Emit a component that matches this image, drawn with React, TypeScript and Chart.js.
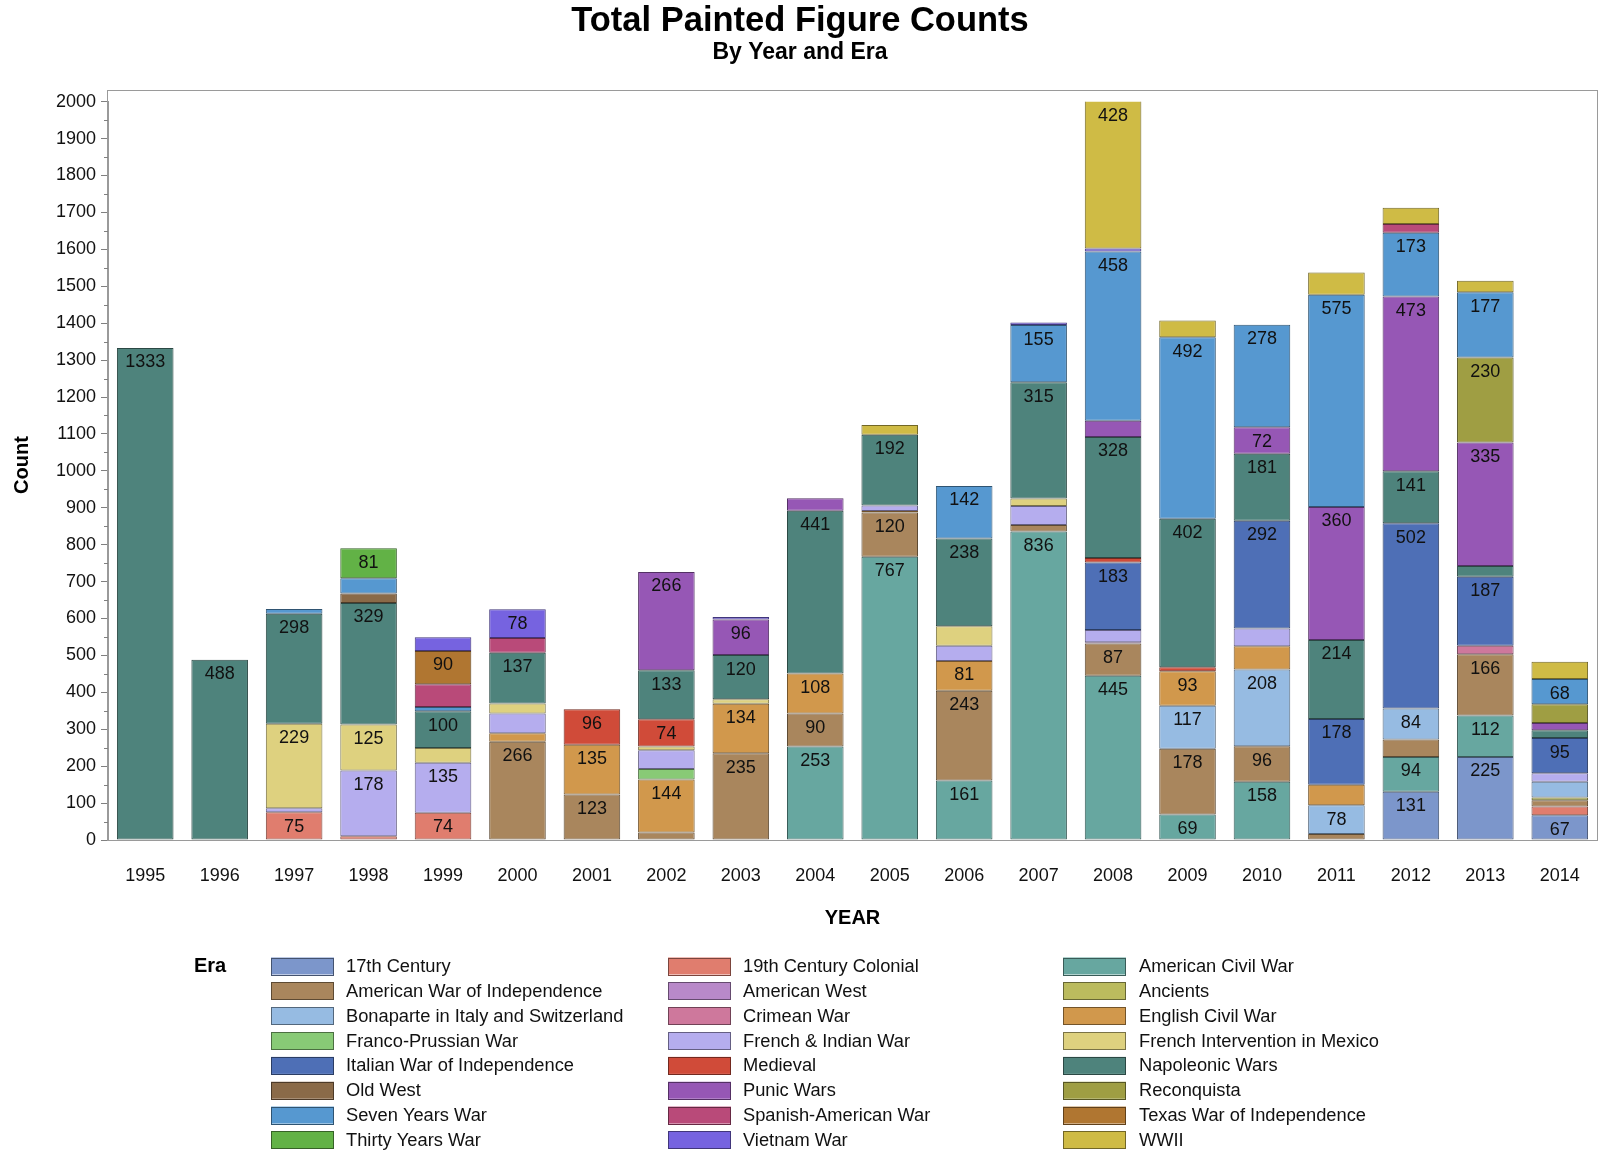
import React, { useEffect, useRef } from "react";
import { Chart, registerables } from "chart.js";

Chart.register(...registerables);

const FONT = '"Liberation Sans", Arial, Helvetica, sans-serif';

const years = ["1995", "1996", "1997", "1998", "1999", "2000", "2001", "2002", "2003", "2004",
  "2005", "2006", "2007", "2008", "2009", "2010", "2011", "2012", "2013", "2014"];

const eras = [
  "17th Century", "19th Century Colonial", "American Civil War",
  "American War of Independence", "American West", "Ancients",
  "Bonaparte in Italy and Switzerland", "Crimean War", "English Civil War",
  "Franco-Prussian War", "French & Indian War", "French Intervention in Mexico",
  "Italian War of Independence", "Medieval", "Napoleonic Wars",
  "Old West", "Punic Wars", "Reconquista",
  "Seven Years War", "Spanish-American War", "Texas War of Independence",
  "Thirty Years War", "Vietnam War", "WWII",
];

const eraColors = [
  "#7c96cb", "#e07d6e", "#67a7a0",
  "#a9865d", "#b889c9", "#bbbb5e",
  "#96bbe2", "#ce789c", "#d1984c",
  "#88ca76", "#b5adee", "#ded17f",
  "#4e6fb6", "#d04b39", "#4e837c",
  "#8a6a48", "#9657b5", "#9f9e43",
  "#5698d0", "#b94a79", "#b07631",
  "#62b246", "#7663e0", "#cfbb45",
];

//                        95  96   97   98   99   00   01   02   03   04   05   06   07   08   09   10   11   12   13   14
const c17thCentury     = [0, 0, 0, 0, 0, 0, 0, 0, 0, 0, 0, 0, 0, 0, 0, 0, 0, 131, 225, 67];
const c19thColonial    = [0, 0, 75, 10, 74, 0, 0, 0, 0, 0, 0, 0, 0, 0, 0, 0, 0, 0, 0, 24];
const americanCivilWar = [0, 0, 0, 0, 0, 0, 0, 0, 0, 253, 767, 161, 836, 445, 69, 158, 0, 94, 112, 0];
const americanWarIndep = [0, 0, 0, 0, 0, 266, 123, 20, 235, 90, 120, 243, 17, 87, 178, 96, 16, 47, 166, 17];
const americanWest     = [0, 0, 0, 0, 0, 0, 0, 0, 0, 0, 0, 0, 0, 4, 0, 0, 0, 0, 0, 0];
const ancients         = [0, 0, 0, 0, 0, 0, 0, 0, 0, 0, 0, 0, 0, 0, 0, 0, 0, 0, 0, 7];
const bonaparte        = [0, 0, 0, 0, 0, 0, 0, 0, 0, 0, 0, 0, 0, 0, 117, 208, 78, 84, 0, 43];
const crimeanWar       = [0, 0, 0, 0, 0, 0, 0, 0, 0, 0, 0, 0, 0, 0, 0, 0, 0, 0, 23, 0];
const englishCivilWar  = [0, 0, 0, 0, 0, 23, 135, 144, 134, 108, 4, 81, 0, 0, 93, 63, 56, 0, 0, 0];
const francoPrussian   = [0, 0, 0, 0, 0, 0, 0, 28, 0, 0, 0, 0, 0, 0, 0, 0, 0, 0, 0, 0];
const frenchIndian     = [0, 0, 11, 178, 135, 54, 0, 51, 0, 0, 15, 41, 52, 33, 0, 48, 0, 0, 0, 23];
const frenchMexico     = [0, 0, 229, 125, 40, 27, 0, 10, 12, 0, 0, 53, 20, 0, 0, 0, 0, 0, 0, 0];
const italianWar       = [0, 0, 0, 0, 0, 0, 0, 0, 0, 0, 0, 0, 0, 183, 0, 292, 178, 502, 187, 95];
const medieval         = [0, 0, 0, 0, 0, 0, 96, 74, 0, 0, 0, 0, 0, 12, 11, 0, 0, 0, 0, 0];
const napoleonic       = [1333, 488, 298, 329, 100, 137, 0, 133, 120, 441, 192, 238, 315, 328, 402, 181, 214, 141, 29, 21];
const oldWest          = [0, 0, 0, 26, 0, 0, 0, 0, 0, 0, 0, 0, 0, 0, 0, 0, 0, 0, 0, 0];
const punicWars        = [0, 0, 0, 0, 0, 0, 0, 266, 96, 34, 0, 0, 0, 44, 0, 72, 360, 473, 335, 20];
const reconquista      = [0, 0, 0, 0, 0, 0, 0, 0, 0, 0, 0, 0, 0, 0, 0, 0, 0, 0, 230, 51];
const sevenYearsWar    = [0, 0, 13, 41, 11, 0, 0, 0, 0, 0, 0, 142, 155, 458, 492, 278, 575, 173, 177, 68];
const spanishAmerican  = [0, 0, 0, 0, 62, 40, 0, 0, 0, 0, 0, 0, 0, 0, 0, 0, 0, 24, 0, 0];
const texasWar         = [0, 0, 0, 0, 90, 0, 0, 0, 0, 0, 0, 0, 0, 0, 0, 0, 0, 0, 0, 0];
const thirtyYearsWar   = [0, 0, 0, 81, 0, 0, 0, 0, 0, 0, 0, 0, 0, 0, 0, 0, 0, 0, 0, 0];
const vietnamWar       = [0, 0, 0, 0, 37, 78, 0, 0, 7, 0, 0, 0, 7, 8, 0, 0, 0, 0, 0, 0];
const wwii             = [0, 0, 0, 0, 0, 0, 0, 0, 0, 0, 26, 0, 0, 428, 45, 0, 60, 44, 31, 47];

const seriesValues = [
  c17thCentury, c19thColonial, americanCivilWar,
  americanWarIndep, americanWest, ancients,
  bonaparte, crimeanWar, englishCivilWar,
  francoPrussian, frenchIndian, frenchMexico,
  italianWar, medieval, napoleonic,
  oldWest, punicWars, reconquista,
  sevenYearsWar, spanishAmerican, texasWar,
  thirtyYearsWar, vietnamWar, wwii,
];

const yTickValues = [0, 100, 200, 300, 400, 500, 600, 700, 800, 900, 1000,
  1100, 1200, 1300, 1400, 1500, 1600, 1700, 1800, 1900, 2000];

function darken(hex: string, f: number): string {
  const n = parseInt(hex.slice(1), 16);
  const r = Math.round(((n >> 16) & 255) * f);
  const g = Math.round(((n >> 8) & 255) * f);
  const b = Math.round((n & 255) * f);
  return `rgb(${r},${g},${b})`;
}

const FRAME_TOP = 90;
const LABEL_MIN = 65;

const overlayPlugin = {
  id: "overlay",
  afterDatasetsDraw(chart: any) {
    const { ctx, chartArea: ca } = chart;
    ctx.save();
    ctx.font = `18px ${FONT}`;
    ctx.fillStyle = "#111";
    ctx.textAlign = "center";
    ctx.textBaseline = "middle";
    chart.data.datasets.forEach((ds: any, i: number) => {
      const meta = chart.getDatasetMeta(i);
      ds.data.forEach((v: any, j: number) => {
        if (v == null || v < LABEL_MIN) return;
        const el = meta.data[j];
        if (!el) return;
        const top = Math.min(el.y, el.base);
        const y = Math.max(top, ca.top) + 14.5;
        ctx.fillText(String(v), el.x, y);
      });
    });
    ctx.restore();
  },
  afterDraw(chart: any) {
    const { ctx, chartArea: ca, scales } = chart;
    const yScale = scales.y;
    ctx.save();
    // frame
    ctx.strokeStyle = "#9a9a9a";
    ctx.lineWidth = 1;
    ctx.strokeRect(Math.round(ca.left) - 0.5, FRAME_TOP + 0.5, Math.round(ca.right - ca.left) + 1, Math.round(ca.bottom) - FRAME_TOP);
    // minor ticks
    ctx.strokeStyle = "#808080";
    ctx.beginPath();
    for (let v = 50; v < 2000; v += 100) {
      const y = Math.round(yScale.getPixelForValue(v)) + 0.5;
      ctx.moveTo(ca.left - 4, y);
      ctx.lineTo(ca.left, y);
    }
    ctx.stroke();

    // titles
    ctx.fillStyle = "#000";
    ctx.textAlign = "center";
    ctx.textBaseline = "middle";
    ctx.font = `bold 34.5px ${FONT}`;
    ctx.fillText("Total Painted Figure Counts", 800, 21);
    ctx.font = `bold 23px ${FONT}`;
    ctx.fillText("By Year and Era", 800, 53);

    // axis titles
    ctx.font = `bold 20px ${FONT}`;
    ctx.fillText("YEAR", (ca.left + ca.right) / 2, 918);
    ctx.save();
    ctx.translate(22, (FRAME_TOP + ca.bottom) / 2);
    ctx.rotate(-Math.PI / 2);
    ctx.fillText("Count", 0, 0);
    ctx.restore();

    // legend
    ctx.textAlign = "left";
    ctx.font = `bold 20px ${FONT}`;
    ctx.fillText("Era", 194, 966);
    const swX = [271, 668, 1063];
    const txX = [346, 743, 1139];
    ctx.font = `18.3px ${FONT}`;
    eras.forEach((name, i) => {
      const row = Math.floor(i / 3);
      const col = i % 3;
      const cy = 966 + row * 24.85;
      ctx.fillStyle = eraColors[i];
      ctx.fillRect(swX[col], cy - 8.5, 63, 17);
      ctx.strokeStyle = darken(eraColors[i], 0.55);
      ctx.lineWidth = 1;
      ctx.strokeRect(swX[col] + 0.5, Math.round(cy - 8.5) + 0.5, 62, 17);
      ctx.fillStyle = "#111";
      ctx.fillText(name, txX[col], cy + 1);
    });
    ctx.restore();
  },
};

export default function App() {
  const ref = useRef<HTMLCanvasElement>(null);
  useEffect(() => {
    document.body.style.margin = "0";
    const datasets = eras.map((name, i) => ({
      label: name,
      data: seriesValues[i].map((v) => (v > 0 ? v : null)),
      backgroundColor: eraColors[i],
      borderColor: darken(eraColors[i], 0.55),
      borderWidth: 1,
      borderSkipped: false as const,
      barPercentage: 0.76,
      categoryPercentage: 1,
      stack: "s",
    }));
    const chart = new Chart(ref.current as HTMLCanvasElement, {
      type: "bar",
      data: { labels: years, datasets },
      options: {
        animation: false,
        responsive: false,
        devicePixelRatio: 1,
        layout: { padding: { left: 0, right: 3, top: 101.7, bottom: 0 } },
        plugins: {
          legend: { display: false },
          title: { display: false },
          tooltip: { enabled: false },
        },
        scales: {
          x: {
            stacked: true,
            offset: true,
            grid: { display: false },
            border: { display: false },
            ticks: { color: "#111", font: { family: FONT, size: 18 }, padding: 17, maxRotation: 0, autoSkip: false },
            afterFit: (s: any) => { s.height = 1163 - 840; },
          },
          y: {
            stacked: true,
            min: 0,
            max: 2000,
            afterBuildTicks: (s: any) => { s.ticks = yTickValues.map((v) => ({ value: v })); },
            grid: { drawOnChartArea: false, drawTicks: true, tickLength: 7, color: "#808080" },
            border: { display: true, color: "#9a9a9a" },
            ticks: { color: "#111", font: { family: FONT, size: 18 }, padding: 5, callback: (v: any) => String(v) },
            afterFit: (s: any) => { s.width = 108; },
          },
        },
      },
      plugins: [overlayPlugin],
    });
    return () => chart.destroy();
  }, []);
  return (
    <div style={{ position: "absolute", left: 0, top: 0, width: 1600, height: 1163, background: "#fff", overflow: "hidden" }}>
      <canvas ref={ref} width={1600} height={1163} style={{ display: "block", width: 1600, height: 1163 }} />
    </div>
  );
}
